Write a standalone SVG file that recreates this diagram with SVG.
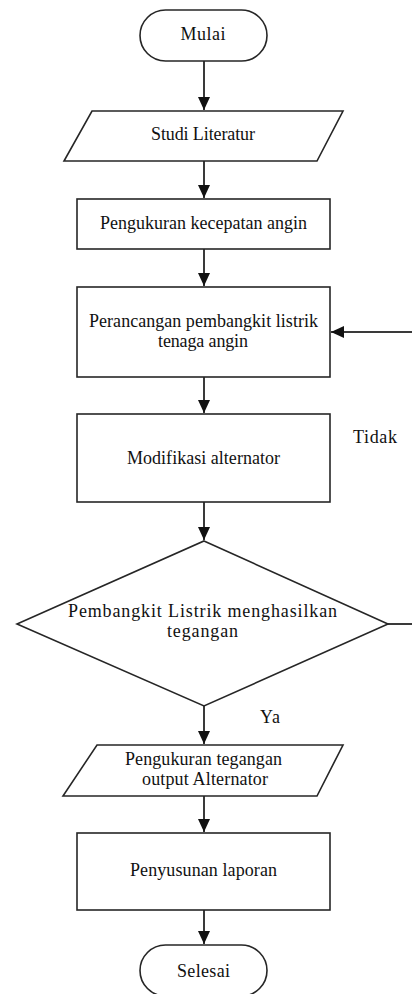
<svg xmlns="http://www.w3.org/2000/svg" width="412" height="994" viewBox="0 0 412 994">
  <style>
    .shape { fill: #ffffff; stroke: #262626; stroke-width: 1.6; }
    .conn { fill: none; stroke: #3a3a3a; stroke-width: 2; }
    .t { font-family: "Liberation Serif", "Times New Roman", serif; font-size: 18px; fill: #111111; text-anchor: middle; }
    .lbl { font-family: "Liberation Serif", "Times New Roman", serif; font-size: 18px; fill: #111111; }
  </style>
  <defs>
    <marker id="arrow" markerUnits="userSpaceOnUse" markerWidth="14" markerHeight="12" refX="13" refY="6" orient="auto">
      <path d="M0,0 L13,6 L0,12 Z" fill="#111111"/>
    </marker>
  </defs>
  <rect width="412" height="994" fill="#ffffff"/>

  <g id="connectors">
    <line class="conn" x1="204" y1="61" x2="204" y2="110" marker-end="url(#arrow)"/>
    <line class="conn" x1="204" y1="161" x2="204" y2="198" marker-end="url(#arrow)"/>
    <line class="conn" x1="204" y1="249" x2="204" y2="286" marker-end="url(#arrow)"/>
    <line class="conn" x1="204" y1="377" x2="204" y2="413" marker-end="url(#arrow)"/>
    <line class="conn" x1="204" y1="502" x2="204" y2="540" marker-end="url(#arrow)"/>
    <line class="conn" x1="204" y1="706" x2="204" y2="744" marker-end="url(#arrow)"/>
    <line class="conn" x1="204" y1="796" x2="204" y2="832" marker-end="url(#arrow)"/>
    <line class="conn" x1="204" y1="910" x2="204" y2="944" marker-end="url(#arrow)"/>
    <line class="conn" x1="388" y1="624" x2="412" y2="624"/>
    <line class="conn" x1="412" y1="332" x2="331" y2="332" marker-end="url(#arrow)"/>
    <text class="lbl" x="353" y="443" textLength="44" lengthAdjust="spacing">Tidak</text>
    <text class="lbl" x="260" y="723" textLength="20" lengthAdjust="spacing">Ya</text>
  </g>

  <g id="mulai">
    <rect class="shape" x="140" y="10" width="127" height="51" rx="25.5" ry="25.5"/>
    <text class="t" x="203" y="40" textLength="45" lengthAdjust="spacing">Mulai</text>
  </g>

  <g id="studi-literatur">
    <polygon class="shape" points="92,111 343,111 317,161 64,161"/>
    <text class="t" x="203" y="140" textLength="104" lengthAdjust="spacing">Studi Literatur</text>
  </g>

  <g id="pengukuran-angin">
    <rect class="shape" x="77" y="199" width="253" height="50"/>
    <text class="t" x="203.5" y="229" textLength="207" lengthAdjust="spacing">Pengukuran kecepatan angin</text>
  </g>

  <g id="perancangan">
    <rect class="shape" x="77" y="287" width="253" height="90"/>
    <text class="t" x="203.5" y="327" textLength="229" lengthAdjust="spacing">Perancangan pembangkit listrik</text>
    <text class="t" x="203" y="347" textLength="90" lengthAdjust="spacing">tenaga angin</text>
  </g>

  <g id="modifikasi">
    <rect class="shape" x="77" y="414" width="253" height="88"/>
    <text class="t" x="203.5" y="464" textLength="153" lengthAdjust="spacing">Modifikasi alternator</text>
  </g>

  <g id="keputusan">
    <polygon class="shape" points="204,541 388,624 204,706 17,624"/>
    <text class="t" x="202.5" y="617" textLength="269" lengthAdjust="spacing">Pembangkit Listrik menghasilkan</text>
    <text class="t" x="202.5" y="637" textLength="71" lengthAdjust="spacing">tegangan</text>
  </g>

  <g id="pengukuran-tegangan">
    <polygon class="shape" points="97,745 343,745 317,796 63,796"/>
    <text class="t" x="203.5" y="765" textLength="157" lengthAdjust="spacing">Pengukuran tegangan</text>
    <text class="t" x="205" y="785" textLength="126" lengthAdjust="spacing">output Alternator</text>
  </g>

  <g id="penyusunan">
    <rect class="shape" x="77" y="833" width="253" height="77"/>
    <text class="t" x="203.5" y="876" textLength="147" lengthAdjust="spacing">Penyusunan laporan</text>
  </g>

  <g id="selesai">
    <rect class="shape" x="140" y="945" width="127" height="51" rx="25.5" ry="25.5"/>
    <text class="t" x="203.5" y="977" textLength="53" lengthAdjust="spacing">Selesai</text>
  </g>
</svg>
